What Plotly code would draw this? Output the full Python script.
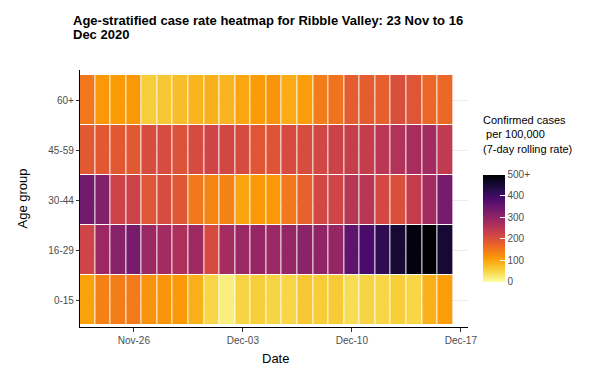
import pandas as pd
import plotly.graph_objects as go

# Dates and age bands
dates = pd.date_range("2020-11-23", "2020-12-16", freq="D")
age_groups = ["0-15", "16-29", "30-44", "45-59", "60+"]

# 7-day rolling case rate per 100,000
rate_0_15 = [105, 140, 145, 148, 120, 118, 112, 90, 50, 20, 52, 58,
             52, 50, 65, 60, 62, 42, 52, 50, 58, 50, 90, 108]
rate_16_29 = [222, 290, 315, 335, 292, 282, 268, 285, 212, 278, 292, 298,
              293, 298, 310, 305, 298, 365, 390, 420, 455, 490, 540, 455]
rate_30_44 = [340, 320, 228, 228, 195, 210, 192, 150, 135, 138, 102, 112,
              115, 150, 178, 218, 220, 255, 252, 215, 205, 240, 282, 335]
rate_45_59 = [190, 190, 190, 190, 210, 210, 200, 212, 222, 218, 212, 195,
              196, 212, 210, 218, 228, 235, 238, 250, 262, 275, 280, 242]
rate_60_plus = [150, 115, 110, 115, 60, 65, 75, 85, 90, 85, 100, 110,
                118, 95, 108, 145, 155, 185, 185, 180, 205, 195, 170, 168]

cbar_vals = [0, 100, 200, 300, 400, 500]
cbar_text = ["0", "100", "200", "300", "400", "500+"]

x_ticks = ["2020-11-26", "2020-12-03", "2020-12-10", "2020-12-17"]
x_ticktext = ["Nov-26", "Dec-03", "Dec-10", "Dec-17"]

z = [rate_0_15, rate_16_29, rate_30_44, rate_45_59, rate_60_plus]
z = [[min(v, 500) for v in row] for row in z]

# plot area: x 80..468 px, y 70..327 px
def px(x):
    return (x - 80) / 388

def py(y):
    return (327 - y) / 257

fig = go.Figure(go.Heatmap(
    x=dates, y=age_groups, z=z,
    zmin=0, zmax=500,
    colorscale="Inferno", reversescale=True,
    xgap=1, ygap=1,
    colorbar=dict(
        x=px(483), xanchor="left", xpad=0,
        y=py(228), yanchor="middle",
        len=127, lenmode="pixels",
        thickness=22, outlinewidth=0,
        tickvals=cbar_vals, ticktext=cbar_text,
        ticks="inside", ticklen=5, tickcolor="white",
        tickfont=dict(size=10, color="#4D4D4D"),
    ),
))

fig.update_layout(
    width=589, height=372,
    margin=dict(l=80, r=121, t=70, b=45, autoexpand=False),
    paper_bgcolor="white", plot_bgcolor="white",
    font=dict(family="Liberation Sans, Arial", color="black"),
    xaxis=dict(
        type="date",
        range=["2020-11-22 13:00", "2020-12-17 11:00"],
        tickvals=x_ticks, ticktext=x_ticktext,
        ticks="outside", ticklen=4, tickcolor="#333333",
        tickfont=dict(size=10, color="#4D4D4D"),
        showline=True, linecolor="black", linewidth=1.2,
        showgrid=False, zeroline=False,
    ),
    yaxis=dict(
        range=[-0.54, 4.6],
        ticks="outside", ticklen=3, tickcolor="#333333",
        tickfont=dict(size=10, color="#4D4D4D"),
        showline=True, linecolor="black", linewidth=1.2,
        showgrid=True, gridcolor="#EBEBEB", gridwidth=1,
        zeroline=False,
    ),
    annotations=[
        dict(text="<b>Age-stratified case rate heatmap for Ribble Valley: 23 Nov to 16</b>",
             x=px(71), y=py(20), xref="paper", yref="paper",
             xanchor="left", yanchor="middle", showarrow=False,
             font=dict(size=13)),
        dict(text="<b>Dec 2020</b>",
             x=px(71), y=py(34), xref="paper", yref="paper",
             xanchor="left", yanchor="middle", showarrow=False,
             font=dict(size=13)),
        dict(text="Age group", textangle=-90, x=px(22), y=0.5,
             xref="paper", yref="paper", xanchor="center", yanchor="middle",
             showarrow=False, font=dict(size=13)),
        dict(text="Date", x=px(275), y=py(358),
             xref="paper", yref="paper", xanchor="center", yanchor="middle",
             showarrow=False, font=dict(size=13)),
        dict(text="Confirmed cases<br> per 100,000<br>(7-day rolling rate)",
             x=px(481), y=py(112), align="left",
             xref="paper", yref="paper", xanchor="left", yanchor="top",
             showarrow=False, font=dict(size=11)),
    ],
)

# drop the page's default body margin so the figure sits at the window corner
fig.write_html("out.html", config={"displayModeBar": False},
               post_script="document.body.style.margin='0';")
